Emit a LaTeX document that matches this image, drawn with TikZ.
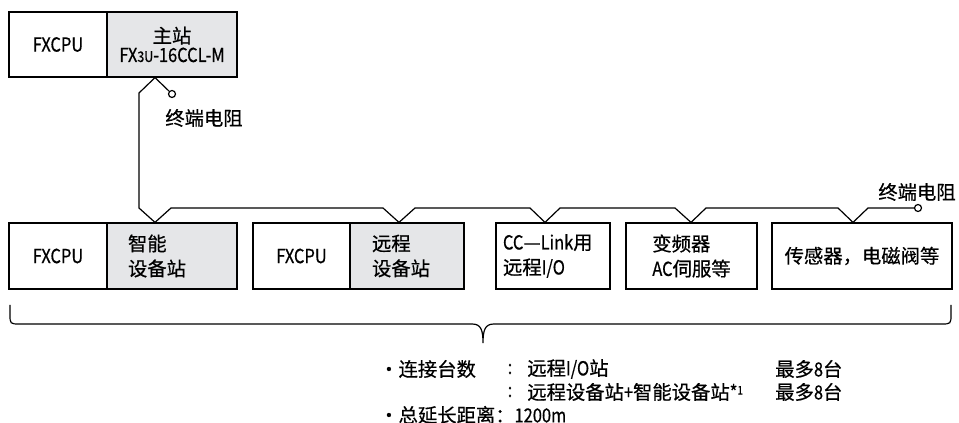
\documentclass[tikz,border=0pt]{standalone}
\usepackage{fontspec}
\setmainfont{Noto Sans CJK SC}[FakeBold=0.6]
\newfontfamily\lat[FakeStretch=0.85,FakeBold=0.6]{Noto Sans CJK SC}
\definecolor{boxgray}{RGB}{229,230,232}
\begin{document}
\begin{tikzpicture}[x=0.75pt,y=-0.75pt,
  every node/.style={font=\fontsize{14.5pt}{18.75pt}\selectfont, inner sep=0pt},
  box/.style={draw, line width=0.9pt, minimum height=49.5pt},
  grey/.style={fill=boxgray},
  bus/.style={line width=0.9pt, line join=miter},
  term/.style={draw, circle, line width=0.9pt, fill=white, minimum size=5.25pt},
  brace/.style={line width=0.9pt}
]
\useasboundingbox (0,0) rectangle (959,423);

% top station
\node[box, minimum width=73.5pt, minimum height=48.75pt] (cpu0) at (58,44.5) {\lat FXCPU};
\node[box, grey, minimum width=97.5pt, minimum height=48.75pt, align=center,
      font=\fontsize{14.5pt}{14.25pt}\selectfont] (master) at (172,44.5)
      {主站\\{\lat FX{\fontsize{11pt}{11pt}\selectfont 3U}-16CCL-M}};

% bottom stations
\node[box, minimum width=73.5pt] (b1cpu) at (58,256) {\lat FXCPU};
\node[box, grey, minimum width=97.5pt, text width=66pt, align=left] (b1st) at (172,256) {智能\\设备站};
\node[box, minimum width=72.75pt] (b2cpu) at (301.5,256) {\lat FXCPU};
\node[box, grey, minimum width=85.5pt, text width=52.5pt, align=left] (b2st) at (407,256) {远程\\设备站};
\node[box, minimum width=85.5pt, text width=75pt, align=left] (b3) at (553,256) {{\lat CC}—{\lat Link}用\\远程{\lat I/O}};
\node[box, minimum width=98.25pt, align=left] (b4) at (691.5,256) {变频器\\{\lat AC}伺服等};
\node[box, minimum width=135pt] (b5) at (862,256) {传感器，电磁阀等};

% terminators
\node[term] (t1) at (172,94) {};
\node[term] (t2) at (918,208) {};
\node (r1) at (204,118) {终端电阻};
\node (r2) at (917,192) {终端电阻};

% bus
\draw[bus] (master.south -| 155,0) -- (t1);
\draw[bus] (master.south -| 155,0) -- (139,93) -- (139,208)
  -- (b1st.north -| 155,0) -- (171,208) -- (383,208)
  -- (b2st.north -| 399,0) -- (415,208) -- (530,208)
  -- (b3.north -| 545,0) -- (560,208) -- (675,208)
  -- (b4.north -| 691,0) -- (706,208) -- (838,208)
  -- (b5.north -| 853,0) -- (868,208) -- (t2);

% brace
\coordinate (bl) at (10,305);
\coordinate (br) at (951,305);
\coordinate (tip) at (483,343);
\draw[brace] (bl) -- (10,314) .. controls (10,324) .. (20,324) -- (472,324)
  .. controls (481,324) and (483,330) .. (tip)
  .. controls (483,330) and (485,324) .. (494,324) -- (941,324)
  .. controls (951,324) .. (951,314) -- (br);

% notes
\node[anchor=west] (n1) at (379,369) {・连接台数};
\node (c1) at (510,369) {\lat :};
\node[anchor=west] (v1) at (527,369) {远程{\lat I/O}站};
\node[anchor=west] (q1) at (775,369) {最多{\lat 8}台};
\node (c2) at (510,392) {\lat :};
\node[anchor=west] (v2) at (527,392) {远程设备站{\lat +}智能设备站{\lat *\raisebox{.45ex}{\fontsize{9pt}{9pt}\selectfont 1}}};
\node[anchor=west] (q2) at (775,392) {最多{\lat 8}台};
\node[anchor=west] (n3) at (379,415) {・总延长距离：{\lat 1200m}};
\end{tikzpicture}
\end{document}
